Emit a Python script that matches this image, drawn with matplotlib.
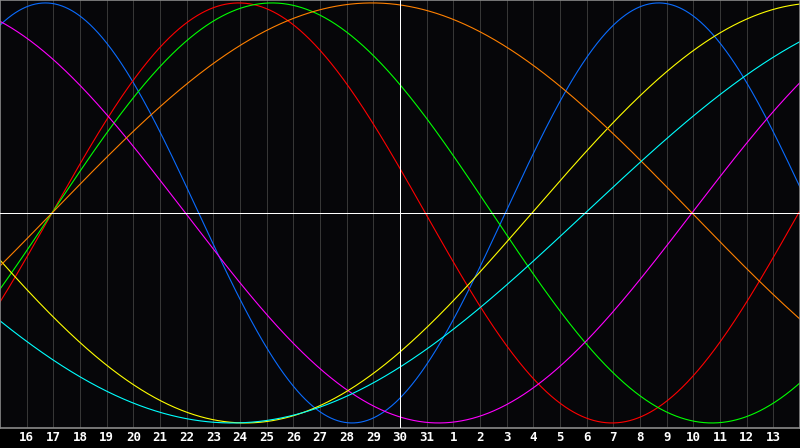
import numpy as np
import matplotlib.pyplot as plt

# biorhythm cycles (days) and their colours
cycle_periods = [23, 28, 33, 38, 43, 48, 53]
cycle_colors = ['#0a6cff', '#ff0000', '#00ff00', '#ff00ff', '#ffff00', '#ff8000', '#00ffff']

# days lived at the left edge of the chart, and days shown
days_at_left = 33262.05
days_shown = 30
today_index = 15

day_labels = [str(d) for d in range(16, 32)] + [str(d) for d in range(1, 14)]

fig = plt.figure(figsize=(8, 4.48), dpi=100, facecolor='black')
ax = fig.add_axes([0, 20 / 448, 1, 428 / 448])
ax.set_facecolor('#060609')

# day grid
for k in range(1, len(day_labels) + 1):
    if k == today_index:
        continue
    ax.axvline(k, color='#363636', lw=0.72, zorder=1, antialiased=False)
ax.axvline(today_index, color='white', lw=0.72, zorder=3, antialiased=False)
ax.axhline(0, color='white', lw=0.72, zorder=3, antialiased=False)

t = np.linspace(0, days_shown, 1200)
for period, color in zip(cycle_periods, cycle_colors):
    ax.plot(t, np.sin(2 * np.pi * (t + days_at_left) / period),
            color=color, lw=0.8, zorder=2)

ax.set_xlim(0, days_shown)
ax.set_ylim(-1.024, 1.014)
ax.set_xticks(range(1, len(day_labels) + 1))
ax.set_xticklabels(day_labels, color='white', fontsize=9,
                   family='DejaVu Sans Mono', fontweight='bold')
ax.tick_params(axis='x', length=0, pad=2.2)
ax.set_yticks([])
for s in ax.spines.values():
    s.set_color('#8a8a8a')
    s.set_linewidth(1.2)

plt.savefig('out.png', dpi=100, facecolor='black')
